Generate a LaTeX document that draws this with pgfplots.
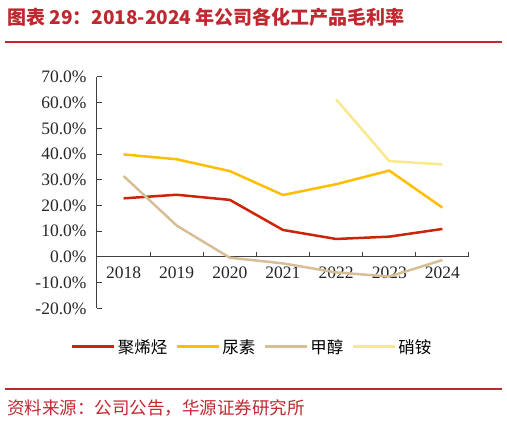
\documentclass[border=0pt]{standalone}
\usepackage{pgfplots}
\pgfplotsset{compat=1.18}
\usepackage{fontspec}
\setmainfont{Liberation Serif}
\newfontfamily\cjk{Noto Sans CJK SC}
\definecolor{cPE}{RGB}{204,36,8}
\definecolor{cUrea}{RGB}{255,190,0}
\definecolor{cMeOH}{RGB}{216,190,150}
\definecolor{cAN}{RGB}{250,232,140}
\definecolor{hdr}{RGB}{192,40,48}
\definecolor{axc}{RGB}{64,64,64}

\begin{document}
\begin{tikzpicture}[x=1pt,y=1pt]
\path[use as bounding box] (0,0) rectangle (507,422);
% header and footer
\node[anchor=west, text=hdr, font=\cjk\bfseries\fontsize{19}{21}\selectfont, inner sep=0pt]
  at (7,405) {图表 29：2018-2024 年公司各化工产品毛利率};
\draw[hdr, line width=1.5pt] (5,380) -- (502,380);
\draw[hdr, line width=1.5pt] (5,33) -- (502,33);
\node[anchor=west, text=hdr, font=\cjk\fontsize{17.5}{19}\selectfont, inner sep=0pt]
  at (7,14) {资料来源：公司公告，华源证券研究所};

\begin{axis}[
    at={(97pt,113.6pt)}, anchor=south west,
    scale only axis, width=372pt, height=231.4pt,
    xmin=-0.5, xmax=6.5, ymin=-20, ymax=70,
    axis y line=left, axis x line=middle,
    axis line style={-, axc, line width=1pt},
    hide obscured x ticks=false,
    xtick align=inside, ytick align=inside,
    every tick/.style={axc, line width=1pt},
    major tick length=5pt,
    xtick={-0.5,0.5,...,6.5},
    x tick label as interval,
    xticklabels={2018,2019,2020,2021,2022,2023,2024},
    ytick={-20,-10,...,70},
    yticklabel={\pgfmathprintnumber[fixed,fixed zerofill,precision=1]{\tick}\%},
    /pgf/number format/assume math mode=true,
    ticklabel style={font=\fontsize{17.5}{19}\selectfont, text=black!85},
    xticklabel style={yshift=-6pt},
    yticklabel style={xshift=-7pt},
    legend columns=4,
    legend style={at={(0.4167,-0.1668)}, anchor=center, draw=none, fill=none,
        font=\cjk\fontsize{16.5}{18}\selectfont,
        /tikz/every even column/.append style={column sep=6pt}},
    legend image code/.code={\draw[#1, line width=3pt] (0pt,0pt) -- (42pt,0pt);},
    every axis plot/.append style={line width=2.5pt, line join=round},
]
\addplot[cPE] coordinates {(0,22.8)(1,24.2)(2,22.2)(3,10.5)(4,7.0)(5,7.9)(6,10.9)};
\addplot[cUrea] coordinates {(0,39.9)(1,38.0)(2,33.4)(3,24.1)(4,28.3)(5,33.6)(6,19.2)};
\addplot[cMeOH] coordinates {(0,31.5)(1,12.2)(2,-0.3)(3,-2.5)(4,-6.0)(5,-7.6)(6,-1.2)};
\addplot[cAN] coordinates {(4,61.3)(5,37.3)(6,36.0)};
\legend{聚烯烃,尿素,甲醇,硝铵}
\end{axis}
\end{tikzpicture}
\end{document}
